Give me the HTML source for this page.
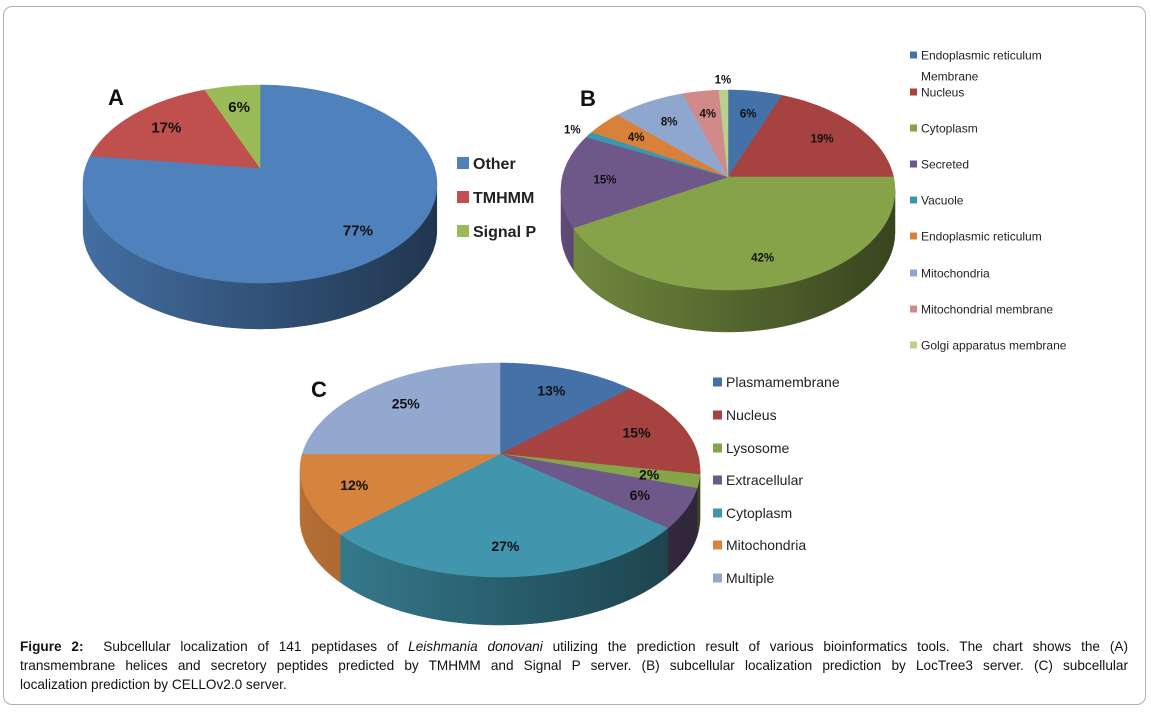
<!DOCTYPE html>
<html><head><meta charset="utf-8">
<style>
html,body{margin:0;padding:0;background:#fff;}
#wrap{position:relative;width:1151px;height:712px;overflow:hidden;font-family:"Liberation Sans",sans-serif;}
#frame{position:absolute;left:3px;top:6px;width:1143px;height:699px;border:1.5px solid #b0b0b0;border-radius:9px;box-sizing:border-box;}
svg{position:absolute;left:0;top:0;}
.cap{position:absolute;left:20px;width:1108px;font-size:13.6px;color:#111;line-height:19px;white-space:nowrap;}
.j{text-align:justify;text-align-last:justify;white-space:normal;}
</style></head>
<body>
<div id="wrap">
<div id="frame"></div>
<svg id="chart" width="1151" height="712"></svg>
<div class="cap j" style="top:637px"><b>Figure 2:</b>&nbsp; Subcellular localization of 141 peptidases of <i>Leishmania donovani</i> utilizing the prediction result of various bioinformatics tools. The chart shows the (A)</div>
<div class="cap j" style="top:656px">transmembrane helices and secretory peptides predicted by TMHMM and Signal P server. (B) subcellular localization prediction by LocTree3 server. (C) subcellular</div>
<div class="cap" style="top:675px">localization prediction by CELLOv2.0 server.</div>
</div>
<script>
const aLabels=["Other","TMHMM","Signal P"];
const aValues=[77,17,6];
const bLabels=["Endoplasmic reticulum Membrane","Nucleus","Cytoplasm","Secreted","Vacuole","Endoplasmic reticulum","Mitochondria","Mitochondrial membrane","Golgi apparatus membrane"];
const bValues=[6,19,42,15,1,4,8,4,1];
const cLabels=["Plasmamembrane","Nucleus","Lysosome","Extracellular","Cytoplasm","Mitochondria","Multiple"];
const cValues=[13,15,2,6,27,12,25];

const aColors=["#4f81bd","#c0504d","#9bbb59"];
const bColors=["#4471a8","#a64340","#86a34a","#6e5789","#3c97ae","#d9803a","#8fa7cf","#d08a8a","#b9d08f"];
const cColors=["#4471a8","#a64340","#86a44a","#6e5789","#4195ad","#d6833e","#92a8cf"];

const NS="http://www.w3.org/2000/svg";
const svg=document.getElementById('chart');
const defs=document.createElementNS(NS,'defs');svg.appendChild(defs);
function mk(tag,attrs,parent){const e=document.createElementNS(NS,tag);for(const k in attrs)e.setAttribute(k,attrs[k]);(parent||svg).appendChild(e);return e;}
function shade(hex,f){const n=parseInt(hex.slice(1),16);const r=Math.round(((n>>16)&255)*f),g=Math.round(((n>>8)&255)*f),b=Math.round((n&255)*f);return "rgb("+r+","+g+","+b+")";}
let gid=0;
function drawPie(name,geo,values,colors,fontSize,labelR){
  const g=mk('g',{});
  
  
  const total=values.reduce((a,b)=>a+b,0);
  // ray from apex in direction of angle t, projected to the ellipse rim
  const ray=(t)=>{
    const dx=geo.rx*Math.sin(t), dy=-geo.ry*Math.cos(t);
    const ox=0, oy=geo.ay-geo.cy;
    const A=dx*dx/(geo.rx*geo.rx)+dy*dy/(geo.ry*geo.ry);
    const B=2*(ox*dx/(geo.rx*geo.rx)+oy*dy/(geo.ry*geo.ry));
    const C=ox*ox/(geo.rx*geo.rx)+oy*oy/(geo.ry*geo.ry)-1;
    const s=(-B+Math.sqrt(B*B-4*A*C))/(2*A);
    return [dx*s,dy*s];
  };
  const P=(t)=>{const r=ray(t);return [geo.cx+r[0],geo.ay+r[1]];};
  const angs=[];let acc=0;
  values.forEach(v=>{const t0=acc/total*2*Math.PI;acc+=v;angs.push([t0,acc/total*2*Math.PI]);});
  // front half in ellipse terms: points where y is below the ellipse centre
  angs.forEach((a,i)=>{
    const n=60,top=[];
    for(let k=0;k<=n;k++){const t=a[0]+(a[1]-a[0])*k/n;const p=P(t);if(p[1]>=geo.cy-0.5)top.push(p);}
    if(top.length<2)return;
    const id='gr'+(gid++);
    const lg=mk('linearGradient',{id:id,gradientUnits:'userSpaceOnUse',x1:geo.cx-geo.rx,y1:0,x2:geo.cx+geo.rx,y2:0},defs);
    mk('stop',{offset:'0','stop-color':shade(colors[i],0.85)},lg);
    mk('stop',{offset:'1','stop-color':shade(colors[i],0.42)},lg);
    const bot=top.map(p=>[p[0],p[1]+geo.depth]);
    let d='M'+top.map(p=>p[0].toFixed(1)+','+p[1].toFixed(1)).join(' L');
    d+=' L'+bot.reverse().map(p=>p[0].toFixed(1)+','+p[1].toFixed(1)).join(' L')+' Z';
    const side=mk('path',{d:d,fill:'url(#'+id+')',stroke:'url(#'+id+')','stroke-width':0.5},g);
    
    
  });
  angs.forEach((a,i)=>{
    const n=Math.max(4,Math.ceil((a[1]-a[0])*40));
    let d='M'+geo.cx+','+geo.ay;
    for(let k=0;k<=n;k++){const p=P(a[0]+(a[1]-a[0])*k/n);d+=' L'+p[0].toFixed(1)+','+p[1].toFixed(1);}
    d+=' Z';
    const sl=mk('path',{d:d,fill:colors[i],stroke:colors[i],'stroke-width':0.5},g);
    
    
  });
  angs.forEach((a,i)=>{
    const m=(a[0]+a[1])/2;
    const f=values[i]/total<=0.012?1.12:labelR;
    const r=ray(m);
    const x=geo.cx+r[0]*f, y=geo.ay+r[1]*f;
    const t=mk('text',{x:x,y:y+fontSize*0.35,'text-anchor':'middle','font-size':fontSize,'font-weight':'bold',fill:'#111'},g);
    t.textContent=values[i]+'%';
    
    
  });
}
drawPie('pie-a',{cx:260,cy:184,ay:168,rx:177,ry:99,depth:46},aValues,aColors,15,0.75);
drawPie('pie-b',{cx:728,cy:190,ay:177,rx:167,ry:100,depth:42},bValues,bColors,11.5,0.74);
drawPie('pie-c',{cx:500,cy:470,ay:454,rx:200,ry:107,depth:48},cValues,cColors,14,0.75);

function title(txt,x,y,nm){const t=mk('text',{x:x,y:y,'font-size':22,'font-weight':'bold',fill:'#111','text-anchor':'middle'});t.textContent=txt;

}
title('A',116,105,'title-a');title('B',588,106,'title-b');title('C',319,397,'title-c');

function legend(nm,labels,colors,x,ys,sq,fs,bold){
  const g=mk('g',{});
  
  
  labels.forEach((l,i)=>{
    const r=mk('rect',{x:x,y:ys[i]-sq/2,width:sq,height:sq,fill:colors[i]},g);
    
    
    const parts=l==="Endoplasmic reticulum Membrane"?["Endoplasmic reticulum","Membrane"]:[l];
    parts.forEach((p,j)=>{
      const t=mk('text',{x:x+sq+4,y:ys[i]+fs*0.36+j*21,'font-size':fs,'font-weight':bold?'bold':'normal',fill:'#222'},g);
      t.textContent=p;
      
      
    });
  });
}
legend('legend-a',aLabels,aColors,457,[163,197,231],12,16,true);
legend('legend-b',bLabels,bColors,910,[55,92,128,164,200,236,273,309,345],7,12,false);
legend('legend-c',cLabels,cColors,713,[382,415,448,480,513,545,578],9,14,false);
</script>
</body></html>
